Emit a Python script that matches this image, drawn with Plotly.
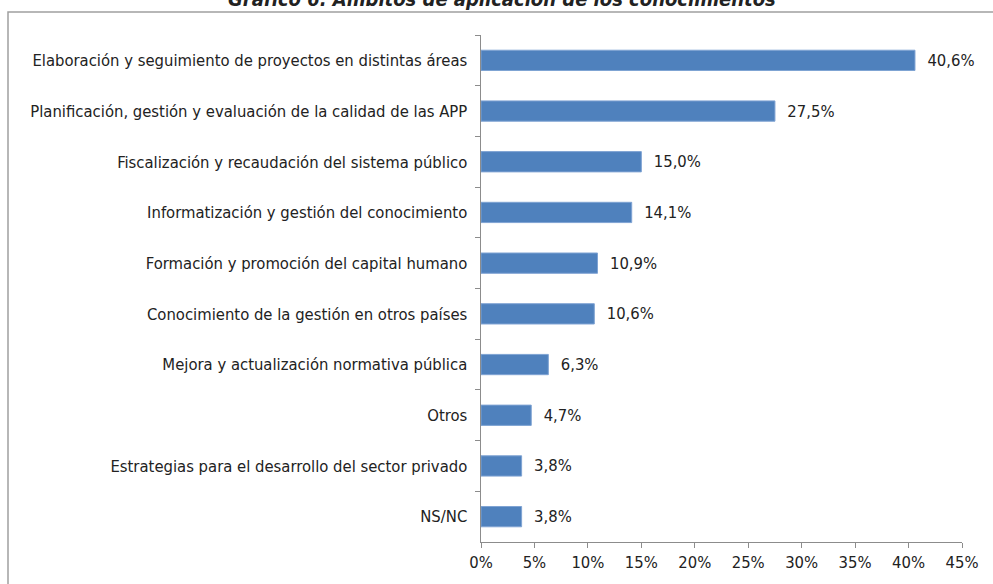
import plotly.graph_objects as go

categorias = [
    "Elaboración y seguimiento de proyectos en distintas áreas",
    "Planificación, gestión y evaluación de la calidad de las APP",
    "Fiscalización y recaudación del sistema público",
    "Informatización y gestión del conocimiento",
    "Formación y promoción del capital humano",
    "Conocimiento de la gestión en otros países",
    "Mejora y actualización normativa pública",
    "Otros",
    "Estrategias para el desarrollo del sector privado",
    "NS/NC",
]
valores = [40.6, 27.5, 15.0, 14.1, 10.9, 10.6, 6.3, 4.7, 3.8, 3.8]
ticks_x = [0, 5, 10, 15, 20, 25, 30, 35, 40, 45]
titulo = "Gráfico 6. Ámbitos de aplicación de los conocimientos"

etiquetas = ["\u00a0\u00a0" + f"{v:.1f}%".replace(".", ",") for v in valores]
fuente = "DejaVu Sans Condensed, sans-serif"
tam = 16.5

W, H = 993, 584
ml, mr, mt, mb = 481, 31, 35, 42
pw, ph = W - ml - mr, H - mt - mb

fig = go.Figure(go.Bar(
    x=valores,
    y=categorias,
    orientation="h",
    marker=dict(color="#4F81BD", line=dict(color="#7FA3D3", width=1)),
    text=etiquetas,
    textposition="outside",
    textfont=dict(family=fuente, size=tam, color="#222222"),
    cliponaxis=False,
))

fig.update_layout(
    width=W, height=H,
    margin=dict(l=ml, r=mr, t=mt, b=mb),
    paper_bgcolor="white", plot_bgcolor="white",
    bargap=0.6,
    showlegend=False,
    font=dict(family=fuente, size=tam, color="#222222"),
)
fig.update_xaxes(
    range=[0, 45], tickvals=ticks_x, ticktext=[f"{t}%" for t in ticks_x],
    showgrid=False, zeroline=False,
    showline=True, linecolor="#8C8C8C", linewidth=1,
    ticks="outside", ticklen=5, tickcolor="#8C8C8C",
    tickfont=dict(family=fuente, size=tam, color="#222222"),
)
fig.update_yaxes(
    categoryorder="array", categoryarray=categorias, autorange="reversed",
    showgrid=False, showline=True, linecolor="#8C8C8C", linewidth=1,
    ticks="outside", ticklen=5, tickcolor="#8C8C8C", tickson="boundaries",
    tickfont=dict(family=fuente, size=tam, color="#222222"),
    ticksuffix="\u00a0\u00a0",
)

# marco gris del gráfico
fig.add_shape(
    type="rect", xref="paper", yref="paper",
    x0=(8 - ml) / pw, x1=(W + 5 - ml) / pw,
    y0=1 - (H + 5 - mt) / ph, y1=1 + (mt - 12) / ph,
    line=dict(color="#A0A0A0", width=1.5), fillcolor="rgba(0,0,0,0)", layer="below",
)

# título, cortado por el borde superior como en el original
fig.add_annotation(
    text=f"<b><i>{titulo}</i></b>",
    xref="paper", yref="paper",
    x=(502 - ml) / pw, y=1 + (mt - 13) / ph,
    xanchor="center", yanchor="bottom", showarrow=False,
    font=dict(family=fuente, size=20, color="#222222"),
)

fig.write_html(
    "out.html",
    config={"displayModeBar": False},
    post_script="document.body.style.margin='0';",
)
